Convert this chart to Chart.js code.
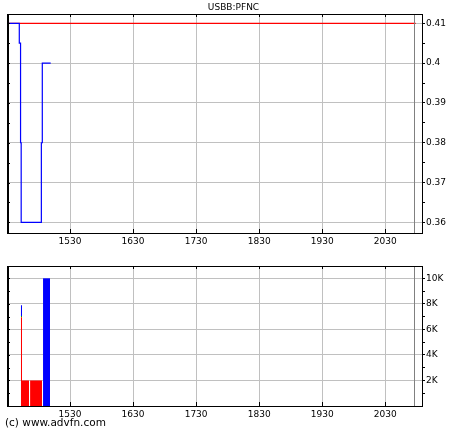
<!DOCTYPE html>
<html>
<head>
<meta charset="utf-8">
<script src="https://cdn.jsdelivr.net/npm/chart.js@4.4.1/dist/chart.umd.min.js"></script>
<style>
  html, body { margin: 0; padding: 0; background: #fff; }
  #wrap { position: relative; width: 460px; height: 430px; }
  #priceBox { position: absolute; left: 0; top: 0; width: 460px; height: 250px; }
  #volBox { position: absolute; left: 0; top: 250px; width: 460px; height: 180px; }
  #copy { position: absolute; left: 5px; top: 416px; font: 10.5px "DejaVu Sans"; color: #000; }
</style>
</head>
<body>
<div id="wrap">
  <div id="priceBox"><canvas id="price"></canvas></div>
  <div id="volBox"><canvas id="vol"></canvas></div>
  <div id="copy">(c) www.advfn.com</div>
</div>
<script>
// all times are minutes after midnight
const symbol = 'USBB:PFNC';
const dayStart = 870;     // 14:30
const dayEnd = 1265;      // 21:05
const sessionEnd = 1257;  // grey marker line
const timeTicks = [930, 990, 1050, 1110, 1170, 1230];
const timeLabels = ['1530', '1630', '1730', '1830', '1930', '2030'];

// trades (step line)
const tradeTimes = [870, 881.7, 882.9, 883.5, 902.7, 903.6, 911.6];
const tradePrices = [0.41, 0.405, 0.38, 0.36, 0.38, 0.40, 0.40];
const prevClose = 0.41;
const prevCloseEnd = 1259;

const priceMin = 0.35733, priceMax = 0.41233;
const priceTicks = [0.36, 0.37, 0.38, 0.39, 0.40, 0.41];
const priceLabels = ['0.36', '0.37', '0.38', '0.39', '0.4', '0.41'];

// volume blocks: from start to end time, stacked from base to top
const volStart = [870, 883.2, 883.2, 883.2, 884.3, 892, 904.3];
const volEnd = [871, 884.3, 884.3, 884.3, 891, 903.3, 911];
const volBase = [0, 0, 6950, 7050, 0, 0, 0];
const volTop = [3100, 6950, 7050, 7900, 2000, 2000, 10000];
const volSide = ['up', 'down', 'flat', 'up', 'down', 'down', 'up'];

const volMax = 10965;
const volTicks = [2000, 4000, 6000, 8000, 10000];
const volLabels = ['2K', '4K', '6K', '8K', '10K'];

const sideColor = { up: '#0000ff', down: '#ff0000', flat: '#00b000' };
const tickFont = { family: 'DejaVu Sans', size: 9 };

function midpoints(arr) {
  const out = [];
  for (let i = 1; i < arr.length; i++) out.push((arr[i] + arr[i - 1]) / 2);
  return out;
}

function findLabel(list, labels, v) {
  const i = list.findIndex(t => Math.abs(t - v) < 1e-9);
  return i < 0 ? '' : labels[i];
}

function timeAxis(height) {
  return {
    type: 'linear', min: dayStart, max: dayEnd,
    afterBuildTicks: s => { s.ticks = timeTicks.map(v => ({ value: v })); },
    afterFit: s => { s.height = height; },
    grid: { color: '#c0c0c0', drawTicks: false },
    border: { color: '#000', width: 1 },
    ticks: {
      color: '#000', font: tickFont, padding: 3, maxRotation: 0, autoSkip: false,
      callback: v => findLabel(timeTicks, timeLabels, v)
    }
  };
}

function valueAxis(min, max, major, minor, labels) {
  const all = major.concat(minor).sort((a, b) => a - b);
  return {
    type: 'linear', position: 'right', min: min, max: max,
    afterBuildTicks: s => { s.ticks = all.map(v => ({ value: v })); },
    afterFit: s => { s.width = 38; },
    grid: {
      color: c => findLabel(major, labels, c.tick.value) ? '#c0c0c0' : 'rgba(0,0,0,0)',
      tickColor: '#000', tickLength: 3
    },
    border: { color: '#000', width: 1 },
    ticks: {
      color: '#000', font: tickFont, padding: 1, autoSkip: false,
      callback: v => findLabel(major, labels, v)
    }
  };
}

// frame, inward ticks and the grey session marker
const framePlugin = {
  id: 'frame',
  afterDatasetsDraw(chart) {
    const { ctx, chartArea: a, scales: { x, y } } = chart;
    ctx.save();
    ctx.lineWidth = 1;
    ctx.strokeStyle = '#808080';
    const sx = Math.round(x.getPixelForValue(sessionEnd)) + 0.5;
    ctx.beginPath();
    ctx.moveTo(sx, a.top);
    ctx.lineTo(sx, a.bottom);
    ctx.stroke();

    ctx.strokeStyle = '#000';
    ctx.beginPath();
    ctx.moveTo(a.left, a.top + 0.5);
    ctx.lineTo(a.right, a.top + 0.5);
    y.ticks.forEach(t => {
      const py = Math.round(y.getPixelForValue(t.value)) + 0.5;
      ctx.moveTo(a.left, py);
      ctx.lineTo(a.left + 3, py);
    });
    x.ticks.forEach(t => {
      const px = Math.round(x.getPixelForValue(t.value)) + 0.5;
      ctx.moveTo(px, a.top);
      ctx.lineTo(px, a.top + 3);
      ctx.moveTo(px, a.bottom - 4);
      ctx.lineTo(px, a.bottom);
    });
    ctx.stroke();
    ctx.lineWidth = 2;
    ctx.beginPath();
    ctx.moveTo(a.left + 1, a.top);
    ctx.lineTo(a.left + 1, a.bottom);
    ctx.stroke();
    ctx.restore();
  }
};

new Chart(document.getElementById('price'), {
  type: 'line',
  data: {
    datasets: [
      {
        label: 'Price',
        data: tradeTimes.map((t, i) => ({ x: t, y: tradePrices[i] })),
        borderColor: '#0000ff', borderWidth: 1.2, pointRadius: 0, stepped: true
      },
      {
        label: 'Previous close',
        data: [{ x: dayStart, y: prevClose }, { x: prevCloseEnd, y: prevClose }],
        borderColor: '#ff0000', borderWidth: 1.2, pointRadius: 0
      }
    ]
  },
  options: {
    responsive: true, maintainAspectRatio: false, animation: false,
    layout: { padding: { left: 7, right: 0, top: 0, bottom: 0 } },
    plugins: {
      legend: { display: false },
      tooltip: { enabled: false },
      title: {
        display: true, text: symbol, color: '#000',
        font: { family: 'DejaVu Sans', size: 9, weight: 'normal' },
        padding: { top: 2, bottom: 1.2 }
      }
    },
    scales: {
      x: timeAxis(17),
      y: valueAxis(priceMin, priceMax, priceTicks, midpoints(priceTicks), priceLabels)
    }
  },
  plugins: [framePlugin]
});

new Chart(document.getElementById('vol'), {
  type: 'line',
  data: {
    datasets: volStart.map((s, i) => ({
      label: 'Volume ' + i,
      data: [{ x: s, y: volTop[i] }, { x: volEnd[i], y: volTop[i] }],
      fill: volBase[i] ? { value: volBase[i] } : 'origin',
      backgroundColor: sideColor[volSide[i]],
      borderColor: 'rgba(0,0,0,0)', borderWidth: 0, pointRadius: 0
    }))
  },
  options: {
    responsive: true, maintainAspectRatio: false, animation: false,
    layout: { padding: { left: 7, right: 0, top: 16, bottom: 0 } },
    plugins: { legend: { display: false }, tooltip: { enabled: false } },
    scales: {
      x: timeAxis(24),
      y: valueAxis(0, volMax, volTicks, midpoints([0].concat(volTicks)), volLabels)
    }
  },
  plugins: [framePlugin]
});
</script>
</body>
</html>
